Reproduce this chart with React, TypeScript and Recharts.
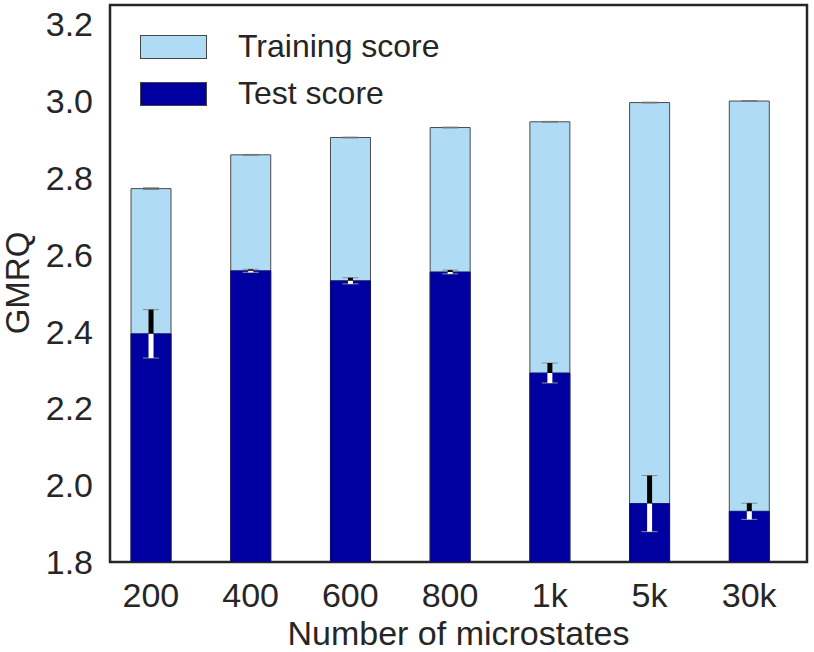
import React from "react";
import {
  ComposedChart,
  Bar,
  XAxis,
  YAxis,
  ErrorBar,
  ReferenceArea,
} from "recharts";

const categories = ["200", "400", "600", "800", "1k", "5k", "30k"];
const trainingScore = [2.772, 2.86, 2.905, 2.931, 2.946, 2.996, 3.0];
const trainingErr = [0.002, 0.001, 0.001, 0.001, 0.001, 0.001, 0.001];
const testScore = [2.394, 2.558, 2.532, 2.555, 2.292, 1.952, 1.932];
const testErr = [0.063, 0.004, 0.008, 0.005, 0.026, 0.073, 0.021];
const yTicks = [1.8, 2.0, 2.2, 2.4, 2.6, 2.8, 3.0, 3.2];

const TRAIN_COLOR = "#afdcf4";
const TEST_COLOR = "#0000a0";
const TEXT = "#262626";
const FONT = "'Liberation Sans', Arial, sans-serif";

const data = categories.map((c, i) => ({
  idx: i,
  name: c,
  training: trainingScore[i],
  trainErr: trainingErr[i],
  test: testScore[i],
  testErr: testErr[i],
  testUp: [0, testErr[i]],
  testDown: [testErr[i], 0],
}));

const legendItems = [
  { label: "Training score", color: TRAIN_COLOR },
  { label: "Test score", color: TEST_COLOR },
];

function LegendBox() {
  return (
    <div
      style={{
        position: "absolute",
        left: 140,
        top: 23,
        fontFamily: FONT,
        pointerEvents: "none",
      }}
    >
      {legendItems.map((it) => (
        <div
          key={it.label}
          style={{ display: "flex", alignItems: "center", height: 47 }}
        >
          <span
            style={{
              display: "inline-block",
              width: 65,
              height: 22,
              background: it.color,
              border: "1px solid #444",
              marginRight: 31,
            }}
          />
          <span style={{ fontSize: 32, color: TEXT }}>{it.label}</span>
        </div>
      ))}
    </div>
  );
}

function XTick(props: any) {
  const { x, payload } = props;
  return (
    <text
      x={x}
      y={607}
      textAnchor="middle"
      fontSize={34}
      fill={TEXT}
      fontFamily={FONT}
    >
      {categories[payload.value] ?? ""}
    </text>
  );
}

function XLabel() {
  return (
    <text
      x={458.5}
      y={645}
      textAnchor="middle"
      fontSize={34}
      fill={TEXT}
      fontFamily={FONT}
    >
      Number of microstates
    </text>
  );
}

function YLabel() {
  const cx = 29;
  const cy = 283;
  return (
    <text
      x={cx}
      y={cy}
      transform={`rotate(-90 ${cx} ${cy})`}
      textAnchor="middle"
      fontSize={33}
      fill={TEXT}
      fontFamily={FONT}
    >
      GMRQ
    </text>
  );
}

export default function App() {
  const tickStyle = { fontSize: 34, fill: TEXT, fontFamily: FONT };
  return (
    <div
      style={{
        position: "absolute",
        left: 0,
        top: 0,
        width: 814,
        height: 652,
        background: "#fff",
      }}
    >
      <ComposedChart
        width={814}
        height={652}
        data={data}
        margin={{ top: 5, right: 7, left: 0, bottom: 0 }}
      >
        <XAxis
          xAxisId="train"
          dataKey="idx"
          type="number"
          domain={[-0.41, 6.58]}
          ticks={[0, 1, 2, 3, 4, 5, 6]}
          interval={0}
          tick={<XTick />}
          tickLine={false}
          axisLine={false}
          height={90}
          allowDataOverflow
          label={<XLabel />}
        />
        <XAxis
          xAxisId="test"
          dataKey="idx"
          type="number"
          domain={[-0.41, 6.58]}
          allowDataOverflow
          hide
        />
        <YAxis
          domain={[1.8, 3.25]}
          ticks={yTicks}
          interval={0}
          tickFormatter={(v: number) => v.toFixed(1)}
          tick={tickStyle}
          tickLine={false}
          axisLine={false}
          tickMargin={11}
          width={110}
          allowDataOverflow
          label={<YLabel />}
        />
        <Bar
          xAxisId="train"
          dataKey="training"
          name="Training score"
          fill={TRAIN_COLOR}
          stroke="#4a4a4a"
          strokeWidth={1}
          barSize={40}
          isAnimationActive={false}
        >
          <ErrorBar
            dataKey="trainErr"
            width={8}
            stroke="#777"
            strokeWidth={1}
            isAnimationActive={false}
          />
        </Bar>
        <Bar
          xAxisId="test"
          dataKey="test"
          name="Test score"
          fill={TEST_COLOR}
          stroke="#101070"
          strokeWidth={1}
          barSize={40}
          isAnimationActive={false}
        >
          <ErrorBar
            dataKey="testErr"
            width={8}
            stroke="#8a8a8a"
            strokeWidth={1}
            isAnimationActive={false}
          />
          <ErrorBar
            dataKey="testUp"
            width={0}
            stroke="#000"
            strokeWidth={5}
            isAnimationActive={false}
          />
          <ErrorBar
            dataKey="testDown"
            width={0}
            stroke="#fff"
            strokeWidth={5}
            isAnimationActive={false}
          />
        </Bar>
        <ReferenceArea
          xAxisId="train"
          x1={-0.41}
          x2={6.58}
          y1={1.8}
          y2={3.25}
          fill="none"
          stroke={TEXT}
          strokeWidth={2.5}
          ifOverflow="visible"
        />
      </ComposedChart>
      <LegendBox />
    </div>
  );
}
